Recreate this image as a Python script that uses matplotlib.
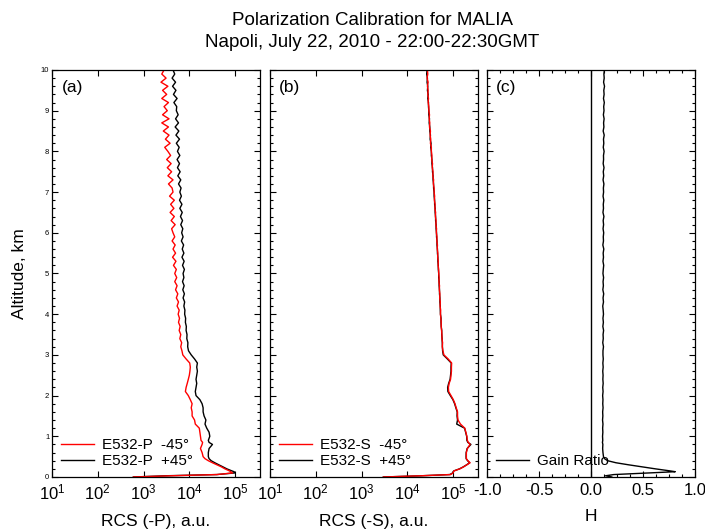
"""Polarization calibration profiles for MALIA, Napoli 2010-07-22."""
import numpy as np
from matplotlib import pyplot as plt
from matplotlib.ticker import MultipleLocator

plt.rcParams["font.family"] = ["Liberation Sans", "DejaVu Sans"]
plt.rcParams["mathtext.fontset"] = "custom"
plt.rcParams["mathtext.rm"] = "Liberation Sans"
plt.rcParams["mathtext.it"] = "Liberation Sans"
plt.rcParams["axes.unicode_minus"] = False

# altitude grid, km
alt_low = [0.0, 0.03, 0.06, 0.1, 0.13, 0.15, 0.2, 0.25, 0.3, 0.35, 0.4, 0.45,
           0.5, 0.6, 0.7, 0.8, 0.85, 0.9, 1.0, 1.1, 1.2, 1.3, 1.4, 1.5, 1.6,
           1.7, 1.8, 1.9, 2.0, 2.1, 2.2, 2.3, 2.4, 2.5, 2.6, 2.7, 2.8, 2.9, 3.0]
alt_high = list(np.round(np.arange(3.1, 10.01, 0.1), 1))
altitude = np.array(alt_low + alt_high)

# range corrected signals, in units of 1e3 a.u.
p_minus = [0.6, 4, 40, 88, 80, 75, 60, 50, 40, 32, 26, 22, 20, 19, 17.5, 19,
           19.5, 18, 17.5, 17, 16.5, 13.5, 13, 11.5, 11.5, 11, 11.5, 10.5, 9.5,
           8.2, 8.5, 9.0, 9.5, 10, 10.3, 10.5, 10.2, 8.5, 7.2,
           6.9, 6.5, 6.8, 6.2, 6.5, 6.0, 6.3, 5.8, 6.1, 5.7,
           6.0, 5.4, 5.8, 5.2, 5.6, 5.0, 5.4, 4.8, 5.3, 4.8,
           5.2, 4.5, 5.1, 4.3, 5.0, 4.4, 4.9, 4.2, 4.8, 4.4,
           4.1, 4.9, 4.0, 4.7, 3.8, 4.6, 3.9, 4.7, 3.7, 4.4,
           4.2, 3.5, 4.4, 3.4, 4.1, 3.3, 4.0, 3.2, 3.9, 3.4,
           2.9, 3.8, 3.0, 3.6, 2.7, 3.5, 2.5, 3.6, 2.6, 3.3,
           2.8, 3.5, 2.5, 3.2, 2.6, 3.4, 2.4, 3.1, 2.5, 2.8]
p_plus = [0.6, 3, 40, 100, 95, 85, 66, 54, 44, 36, 30, 27, 26, 26, 27, 32,
          27, 26, 28, 27, 24, 22, 23, 21, 20, 20, 19, 17, 14, 13.5, 14, 14.5,
          14, 14.5, 15, 14.5, 15, 13, 11,
          9.6, 9.2, 9.3, 8.8, 8.9, 8.5, 8.6, 8.2, 8.3, 7.9,
          8.0, 7.6, 7.9, 7.3, 7.8, 7.2, 7.7, 7.1, 7.6, 7.3,
          7.8, 7.1, 7.7, 6.9, 7.6, 7.0, 7.5, 6.7, 7.3, 6.8,
          7.2, 6.5, 7.1, 6.4, 7.0, 6.2, 6.9, 6.1, 6.7, 6.2,
          6.6, 5.8, 6.5, 5.6, 6.3, 5.5, 6.1, 5.4, 6.2, 5.5,
          6.0, 5.2, 6.1, 5.1, 5.9, 4.9, 5.8, 5.0, 5.7, 5.2,
          5.3, 4.6, 5.4, 4.5, 5.1, 4.3, 5.0, 4.2, 4.8, 4.4]
s_minus = [3, 20, 88, 100, 102, 105, 140, 170, 200, 235, 210, 195, 195, 195,
           205, 235, 215, 205, 200, 190, 180, 145, 128, 125, 125, 117, 110,
           101, 90, 80, 79, 82, 88, 90, 92, 92, 93, 78, 63,
           60, 58, 59, 57, 57, 56, 55, 55, 54, 53,
           53.5, 52, 52.5, 51, 51.5, 50, 50.5, 49, 49.5, 48.5,
           48.5, 47, 47.5, 46, 46.5, 45, 45.5, 44, 44.5, 43,
           43.5, 42, 42.5, 41, 41.5, 40, 40.5, 39, 39.5, 38.5,
           38.5, 37, 37.5, 36, 36.5, 35, 35.5, 34, 34.5, 33.5,
           33.5, 32, 32.5, 31.5, 32, 30.5, 31, 30, 30.5, 29.5,
           29.5, 28.5, 29, 28, 28.5, 27.5, 28.5, 27, 28, 27.5]
s_plus = [3, 20, 85, 98, 100, 104, 138, 168, 198, 230, 208, 193, 192, 193,
          203, 245, 210, 200, 198, 188, 178, 120, 125, 122, 123, 115, 108,
          99, 87, 77, 76, 80, 86, 88, 90, 90, 91, 75, 61,
          59, 58.5, 58, 57.5, 56.5, 56.5, 55, 54.5, 54.5, 53,
          52.5, 52.5, 51.5, 51.5, 50.5, 50.5, 49.5, 49.5, 48.5, 48.5,
          47.5, 47.5, 46.5, 46.5, 45.5, 45.5, 44.5, 44.5, 43.5, 43.5,
          42.5, 42.5, 41.5, 41.5, 40.5, 40.5, 39.5, 39.5, 38.5, 38.5,
          37.5, 37.5, 36.5, 36.5, 35.5, 35.5, 34.5, 34.5, 33.5, 33.5,
          32.5, 33, 31.5, 32, 31, 31, 30, 30.5, 29.5, 29.5,
          29, 29, 28, 28.5, 27.5, 28, 27, 27.5, 26.5, 27]
gain_ratio = [0.2, 0.14, 0.22, 0.56, 0.81, 0.76, 0.62, 0.49, 0.36, 0.24, 0.16,
              0.13, 0.12, 0.115, 0.112, 0.114, 0.11, 0.113, 0.111, 0.114,
              0.112, 0.115, 0.111, 0.114, 0.112, 0.116, 0.113, 0.115, 0.112,
              0.116, 0.113, 0.117, 0.114, 0.116, 0.113, 0.117, 0.114, 0.118,
              0.115,
              0.115, 0.12, 0.113, 0.118, 0.116, 0.121, 0.114, 0.119, 0.115, 0.12,
              0.117, 0.113, 0.12, 0.116, 0.122, 0.114, 0.119, 0.116, 0.121, 0.115,
              0.118, 0.122, 0.115, 0.12, 0.117, 0.123, 0.114, 0.12, 0.118, 0.122,
              0.116, 0.121, 0.117, 0.124, 0.115, 0.12, 0.118, 0.123, 0.116, 0.121,
              0.119, 0.124, 0.116, 0.122, 0.118, 0.125, 0.117, 0.121, 0.12, 0.126,
              0.118, 0.123, 0.12, 0.127, 0.117, 0.124, 0.121, 0.126, 0.119, 0.125,
              0.122, 0.128, 0.12, 0.126, 0.123, 0.13, 0.121, 0.127, 0.124, 0.129]


def style_axis(ax):
    """Inward ticks on all four sides."""
    ax.set_ylim(0, 10)
    ax.yaxis.set_major_locator(MultipleLocator(1))
    ax.yaxis.set_minor_locator(MultipleLocator(0.2))
    ax.tick_params(which="both", direction="in", top=True, right=True,
                   width=0.8)
    ax.tick_params(which="major", length=4)
    ax.tick_params(which="minor", length=2)
    ax.tick_params(axis="x", labelsize=12, pad=4)
    for sp in ax.spines.values():
        sp.set_linewidth(0.9)


fig = plt.figure(figsize=(7.05, 5.31), dpi=100)
w, h, b = 0.295, 0.7665, 0.1017
ax_a = fig.add_axes([0.0738, b, w, h])
ax_b = fig.add_axes([0.383, b, w, h])
ax_c = fig.add_axes([0.6908, b, w, h])

for ax, lo, hi, name in ((ax_a, p_minus, p_plus, "P"),
                         (ax_b, s_minus, s_plus, "S")):
    ax.plot(np.array(hi) * 1e3, altitude, color="black", lw=1,
            label=f"E532-{name}  +45°")
    ax.plot(np.array(lo) * 1e3, altitude, color="red", lw=1,
            label=f"E532-{name}  -45°")
    ax.set_xscale("log")
    ax.set_xlim(10, 3.5e5)
    ax.set_xticks([1e1, 1e2, 1e3, 1e4, 1e5])
    style_axis(ax)
    ax.set_xlabel(f"RCS (-{name}), a.u.", fontsize=12.5, labelpad=8)
    handles, labels = ax.get_legend_handles_labels()
    ax.legend(handles[::-1], labels[::-1], loc="lower left",
              bbox_to_anchor=(-0.01, -0.005), frameon=False, fontsize=11,
              handlelength=2.2, handletextpad=0.5, labelspacing=0.15,
              borderaxespad=0.3)

ax_c.axvline(0, color="black", lw=1)
ax_c.plot(gain_ratio, altitude, color="black", lw=1, label="Gain Ratio")
ax_c.set_xlim(-1, 1)
ax_c.set_xticks([-1.0, -0.5, 0.0, 0.5, 1.0])
ax_c.set_xticklabels(["-1.0", "-0.5", "0.0", "0.5", "1.0"])
ax_c.xaxis.set_minor_locator(MultipleLocator(0.125))
style_axis(ax_c)
ax_c.set_xlabel("H", fontsize=12.5, labelpad=8)
ax_c.legend(loc="lower left", bbox_to_anchor=(-0.01, -0.005), frameon=False,
            fontsize=11, handlelength=2.2, handletextpad=0.5,
            borderaxespad=0.3)

ax_a.tick_params(axis="y", labelsize=5.5, pad=2)
ax_a.set_ylabel("Altitude, km", fontsize=12.5, labelpad=10)
ax_b.tick_params(axis="y", labelleft=False)
ax_c.tick_params(axis="y", labelleft=False)

for ax, tag in ((ax_a, "(a)"), (ax_b, "(b)"), (ax_c, "(c)")):
    ax.text(0.045, 0.975, tag, transform=ax.transAxes, fontsize=12.5,
            va="top", ha="left")

fig.text(0.528, 0.978, "Polarization Calibration for MALIA\n"
         "Napoli, July 22, 2010 - 22:00-22:30GMT", ha="center", va="top",
         fontsize=13.5, linespacing=1.4)

fig.savefig("out.png", dpi=100)
